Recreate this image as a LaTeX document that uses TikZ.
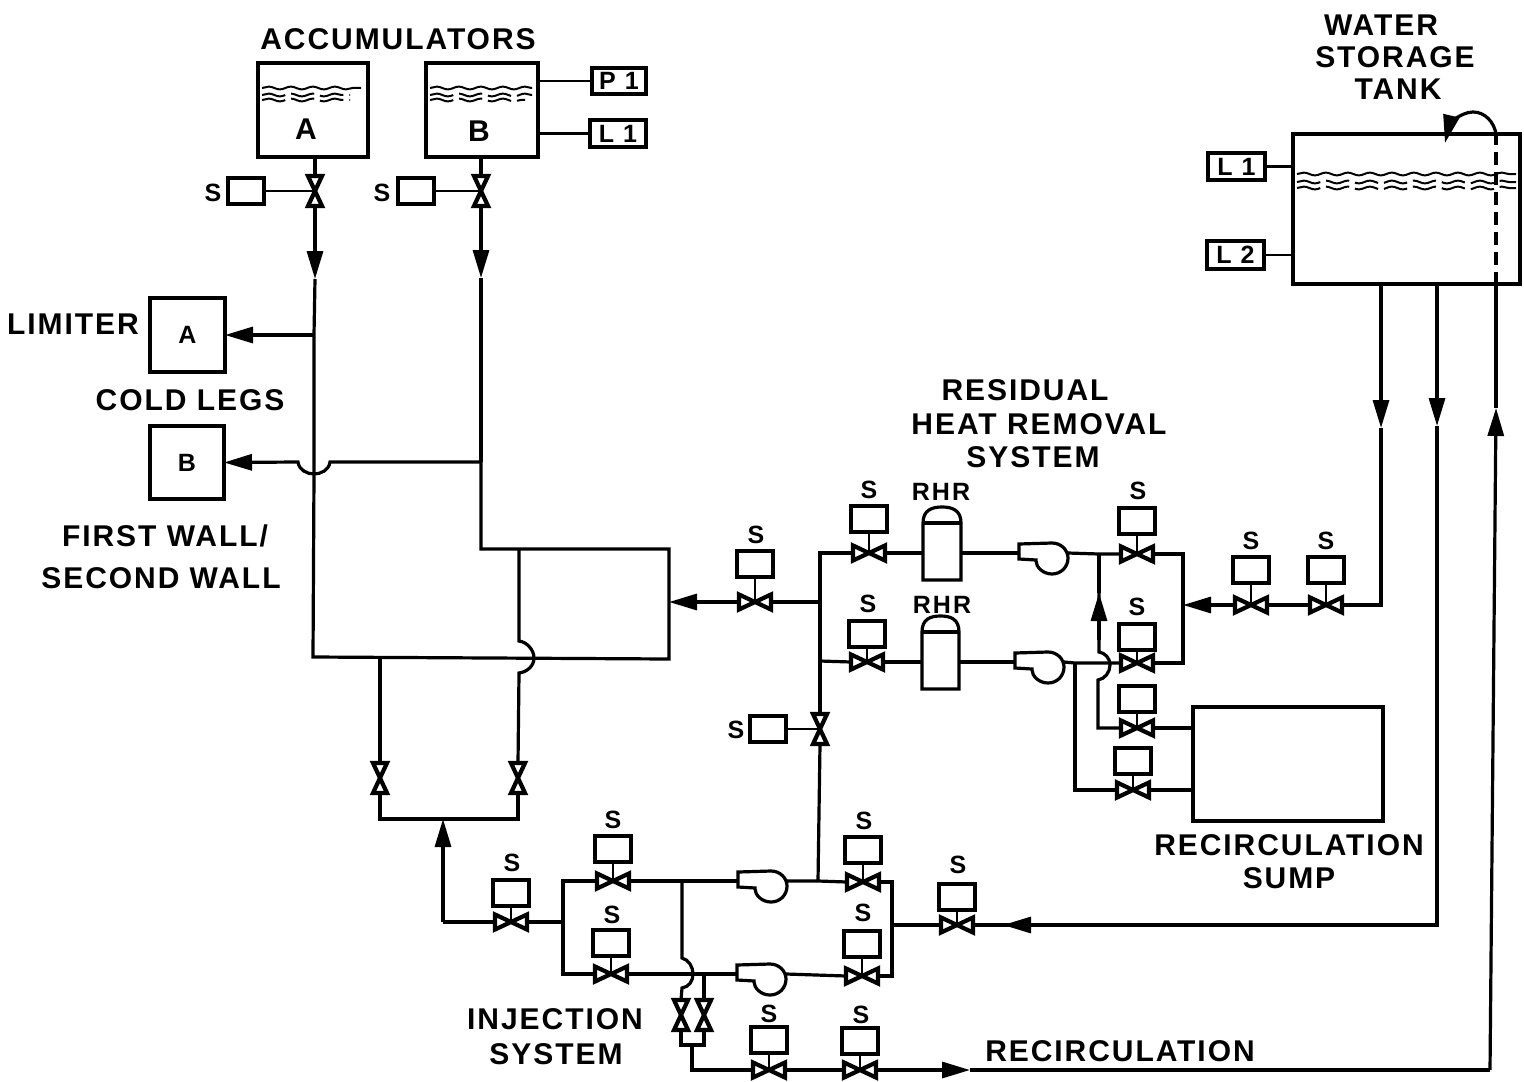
\documentclass[tikz,border=0pt]{standalone}
\usepackage{fontspec}
\setmainfont{Liberation Sans}
\newfontfamily\bigfont[LetterSpace=6.5]{Liberation Sans Bold}
\newfontfamily\smallfont[LetterSpace=8]{Liberation Sans Bold}
\usetikzlibrary{arrows.meta,decorations.pathmorphing}
\tikzset{
  pipe/.style={line width=1.6pt,line join=miter},
  thinpipe/.style={line width=1.4pt},
  vline/.style={line width=2.1pt,line join=miter},
  tip/.style={-{Triangle[length=14pt,width=8pt]}},
  title/.style={font=\bigfont\fontsize{15}{17}\selectfont,inner sep=0pt,align=center,yshift=-0.5pt},
  small/.style={font=\smallfont\fontsize{12.5}{14}\selectfont,inner sep=0pt,yshift=-0.5pt},
  boxlabel/.style={font=\smallfont\fontsize{12.5}{14}\selectfont},
  act/.style={draw,line width=1.7pt,inner sep=0pt,outer sep=0pt,minimum width=18pt,minimum height=13pt,fill=white},
  hv/.style={inner sep=0pt,outer sep=0pt,minimum width=16pt,minimum height=7.5pt,
    append after command={\pgfextra{\draw[vline,fill=white] (\tikzlastnode.north west)--(\tikzlastnode.south east)--(\tikzlastnode.north east)--(\tikzlastnode.south west)--cycle;}}},
  vv/.style={inner sep=0pt,outer sep=0pt,minimum width=7pt,minimum height=15pt,
    append after command={\pgfextra{\draw[vline,fill=white] (\tikzlastnode.north west)--(\tikzlastnode.north east)--(\tikzlastnode.south west)--(\tikzlastnode.south east)--cycle;}}},
  water/.style={line width=1pt,decorate,decoration={snake,amplitude=.7pt,segment length=11pt}},
  brk/.style={dash pattern=on 12pt off 3pt}
}
% boxes given by their corners in reference pixels
\newcommand\lbx[6]{\node[draw,line width=1.7pt,inner sep=0pt,outer sep=0pt,minimum width={(#4-#2)*0.5pt},minimum height={(#5-#3)*0.5pt},boxlabel] (#1) at ({(#2+#4)/2},{(#3+#5)/2}) {#6};}
% horizontal valve with actuator above: name, x, y, actuator centre y
\newcommand\hva[4]{\node[hv] (#1) at (#2,#3) {};\node[act] (#1a) at (#2,#4) {};\draw[thinpipe] (#1a.south) -- (#1.center);}
% pump: name, circle centre x, y
\newcommand\pump[3]{\begin{scope}[shift={(#2,#3)}]
 \node[inner sep=0pt,minimum size=0pt] (#1) at (0,0) {};
 \coordinate (#1in) at (-33,-5);\coordinate (#1out) at (16,-5);
 \draw[pipe,fill=white] (-33,-14) -- (0,-15) .. controls (9,-15) and (16,-8) .. (16,0) .. controls (16,9) and (9,16) .. (0,16) .. controls (-9,16) and (-16,9) .. (-16,3) -- (-16,2) -- (-33,1) -- cycle;
 \end{scope}}
% RHR vessel: name, x1, x2, ydome, yspring, ybottom
\newcommand\rhr[6]{\coordinate (#1w) at (#2,{#6-27});\coordinate (#1e) at (#3,{#6-27});
 \draw[pipe] (#2,#5) .. controls (#2,{#4+3}) and ({(#2+#3)/2-10},#4) .. ({(#2+#3)/2},#4) .. controls ({(#2+#3)/2+10},#4) and (#3,{#4+3}) .. (#3,#5) -- (#3,#6) -- (#2,#6) -- cycle;
 \draw[pipe] (#2,#5) -- (#3,#5);}
\begin{document}
\begin{tikzpicture}[x=0.5pt,y=-0.5pt]
\useasboundingbox (0,0) rectangle (1524,1081);

% ---- labels
\node[title] (tacc) at (398,38) {ACCUMULATORS};
\node[title] (tlim) at (73,323) {LIMITER};
\node[title] (tcold) at (190,399) {COLD LEGS};
\node[title] (tfw1) at (165,535) {FIRST WALL/};
\node[title] (tfw2) at (161,577) {SECOND WALL};
\node[title] (tw1) at (1381,24) {WATER};
\node[title] (tw2) at (1395,56) {STORAGE};
\node[title] (tw3) at (1398,88) {TANK};
\node[title] (tr1) at (1025,389) {RESIDUAL};
\node[title] (tr2) at (1039,423) {HEAT REMOVAL};
\node[title] (tr3) at (1033,456) {SYSTEM};
\node[title] (ts1) at (1289,844) {RECIRCULATION};
\node[title] (ts2) at (1289,877) {SUMP};
\node[title] (ti1) at (555,1018) {INJECTION};
\node[title] (ti2) at (556,1053) {SYSTEM};
\node[title] (trc) at (1120,1050) {RECIRCULATION};

% ---- tanks and boxes
\lbx{ta}{258}{63}{368}{157}{}
\lbx{tb}{426}{63}{538}{157}{}
\node[title] (ala) at (306,128) {A};
\node[title] (alb) at (479,130) {B};
\lbx{p1}{592}{68}{646}{94}{P 1}
\lbx{l1a}{590}{120}{646}{147}{L 1}
\lbx{lim}{150}{298}{225}{372}{A}
\lbx{cold}{150}{426}{224}{499}{B}
\lbx{wst}{1293}{134}{1520}{284}{}
\lbx{l1w}{1208}{153}{1265}{180}{L 1}
\lbx{l2w}{1207}{241}{1264}{269}{L 2}
\lbx{sump}{1193}{707}{1383}{821}{}

% ---- water surfaces
\draw[water] (262,88) -- (361,88);
\draw[water,brk] (262,95) -- (350,95);
\draw[water,brk] (262,100) -- (350,100);
\draw[water] (430,88) -- (532,88);
\draw[water,brk] (430,95) -- (532,95);
\draw[water,brk] (430,100) -- (525,100);
\draw[water] (1297,174) -- (1516,174);
\draw[water,brk] (1297,182) -- (1516,182);
\draw[water,brk] (1297,188) -- (1516,188);

% ---- accumulator valves
\node[vv] (va) at (315,191) {};
\node[vv] (vb) at (481,191) {};
\node[act] (vaa) at (246,191) {};
\node[act] (vba) at (416,191) {};
\node[small] (sa) at (213,192) {S};
\node[small] (sb) at (382,192) {S};
\draw[thinpipe] (vaa.east) -- (va.center);
\draw[thinpipe] (vba.east) -- (vb.center);

% ---- valves with actuators
\hva{v1}{755}{602}{564}
\hva{v2}{869}{553}{519}
\hva{v3}{867}{662}{634}
\hva{v4}{1137}{554}{521}
\hva{v5}{1137}{663}{637}
\hva{v6}{1137}{728}{699}
\hva{v7}{1133}{790}{761}
\hva{v8}{1251}{605}{570}
\hva{v9}{1326}{605}{570}
\hva{v10}{511}{922}{893}
\hva{v11}{613}{881}{849}
\hva{v12}{611}{974}{943}
\hva{v13}{863}{882}{850}
\hva{v14}{862}{976}{944}
\hva{v15}{957}{925}{897}
\hva{v16}{769}{1070}{1040}
\hva{v17}{860}{1070}{1041}
\node[small] (s1) at (756,534) {S};
\node[small] (s2) at (869,489) {S};
\node[small] (s3) at (868,603) {S};
\node[small] (s4) at (1138,490) {S};
\node[small] (s5) at (1137,606) {S};
\node[small] (s8) at (1251,540) {S};
\node[small] (s9) at (1326,540) {S};
\node[small] (s10) at (512,862) {S};
\node[small] (s11) at (613,819) {S};
\node[small] (s12) at (612,914) {S};
\node[small] (s13) at (864,820) {S};
\node[small] (s14) at (863,912) {S};
\node[small] (s15) at (958,864) {S};
\node[small] (s16) at (769,1013) {S};
\node[small] (s17) at (861,1014) {S};
\node[small] (rl1) at (941,491) {RHR};
\node[small] (rl2) at (942,604) {RHR};

% ---- plain valves
\node[vv] (vl) at (380,778) {};
\node[vv] (vr) at (518,778) {};
\node[vv] (vc) at (820,729) {};
\node[vv] (vp) at (681,1015) {};
\node[vv] (vq) at (704,1015) {};
\node[act] (vca) at (768,729) {};
\node[small] (sc) at (736,729) {S};
\draw[thinpipe] (vca.east) -- (vc.center);

% ---- vessels and pumps
\rhr{r1}{923}{961}{507}{523}{580}
\rhr{r2}{922}{959}{616}{632}{689}
\pump{pu1}{1052}{558}
\pump{pu2}{1048}{667}
\pump{pu3}{771}{886}
\pump{pu4}{770}{979}

% ---- instrument lines
\coordinate (tb1) at (538,81);
\coordinate (tb2) at (538,133.5);
\coordinate (tw1a) at (1293,166.5);
\coordinate (tw2a) at (1293,255);
\draw[thinpipe] (tb1) -- (p1.west);
\draw[thinpipe] (tb2) -- (l1a.west);
\draw[thinpipe] (l1w.east) -- (tw1a);
\draw[thinpipe] (l2w.east) -- (tw2a);

% ---- accumulator lines
\coordinate (taout) at (315,157);
\coordinate (tbout) at (481,157);
\coordinate (aa) at (315,279);
\coordinate (ab) at (481,278);
\coordinate (jlim) at (314,335);
\coordinate (jcross) at (314,474);
\coordinate (jbl) at (313,657);
\coordinate (jb) at (481,462);
\coordinate (jtl) at (481,549);
\coordinate (jtr) at (669,549);
\coordinate (jbr) at (669,659);
\coordinate (j519) at (519,549);
\coordinate (jarrow) at (669,602);
\draw[pipe] (taout) -- (va.north);
\draw[pipe] (tbout) -- (vb.north);
\draw[pipe,tip] (va.south) -- (aa);
\draw[pipe] (aa) -- (jlim) -- (jcross) -- (jbl) -- (jbr) -- (jtr) -- (jtl) -- (jb);
\draw[pipe,tip] (vb.south) -- (ab);
\draw[pipe] (ab) -- (jb);
\draw[pipe,tip] (jlim) -- (lim.east);
\draw[pipe,tip] (jb) -- (330,462) .. controls (329,470) and (321,474) .. (jcross) .. controls (307,474) and (299,470) .. (298,462) -- (cold.east);

% ---- loop to isolation valves
\coordinate (jl) at (380,658);
\coordinate (jlb) at (380,819);
\coordinate (jrb) at (518,819);
\coordinate (jarr2) at (443,819);
\coordinate (jarr2b) at (443,922);
\draw[pipe] (j519) -- (519,641) .. controls (527,642) and (534,650) .. (534,658) .. controls (534,666) and (527,672) .. (519,673) -- (vr.north);
\draw[pipe] (jl) -- (vl.north);
\draw[pipe] (vl.south) -- (jlb) -- (jrb) -- (vr.south);
\draw[pipe,tip] (jarr2b) -- (jarr2);
\draw[pipe] (jarr2b) -- (v10.west);

% ---- RHR section
\coordinate (j820a) at (820,553);
\coordinate (j820b) at (820,602);
\coordinate (j820c) at (820,661);
\coordinate (j817) at (818,881);
\coordinate (j1099a) at (1099,554);
\coordinate (j1183a) at (1183,554);
\coordinate (j1183b) at (1183,605);
\coordinate (j1183c) at (1183,663);
\coordinate (j1099b) at (1098,728);
\coordinate (a1099) at (1099,593);
\coordinate (j1075a) at (1075,663);
\coordinate (j1075b) at (1075,790);
\coordinate (s728) at (1193,728);
\coordinate (s790) at (1193,790);
\draw[pipe,tip] (v1.west) -- (jarrow);
\draw[pipe] (v1.east) -- (j820b);
\draw[pipe] (v2.west) -- (j820a) -- (j820b) -- (j820c) -- (vc.north);
\draw[pipe] (vc.south) -- (j817);
\draw[pipe] (j820c) -- (v3.west);
\draw[pipe] (v2.east) -- (r1w);
\draw[pipe] (v3.east) -- (r2w);
\draw[pipe] (r1e) -- (pu1in);
\draw[pipe] (r2e) -- (pu2in);
\draw[pipe] (pu1out) -- (j1099a) -- (v4.west);
\draw[pipe] (pu2out) -- (j1075a) -- (v5.west);
\draw[pipe] (v4.east) -- (j1183a) -- (j1183b) -- (j1183c) -- (v5.east);
\draw[pipe] (j1075a) -- (j1075b) -- (v7.west);
\draw[pipe] (v7.east) -- (s790);
\draw[pipe] (v6.east) -- (s728);
\draw[pipe] (v6.west) -- (j1099b) -- (1098,680) .. controls (1105,679) and (1110,672) .. (1110,665) .. controls (1110,658) and (1105,653) .. (1099,652) -- (a1099);
\draw[pipe] (a1099) -- (j1099a);
\draw[pipe,tip] (1099,640) -- (a1099);

% ---- water tank lines
\coordinate (o1) at (1381,285);
\coordinate (o2) at (1437,285);
\coordinate (o3) at (1496,285);
\coordinate (a1) at (1381,428);
\coordinate (a2) at (1437,426);
\coordinate (a3) at (1496,408);
\coordinate (c1) at (1381,605);
\coordinate (c2) at (1437,925);
\coordinate (c3) at (1490,1070);
\coordinate (o4) at (1496,134);
\coordinate (o5) at (1445,143);
\coordinate (a4) at (1003,925);
\coordinate (a5) at (970,1070);
\draw[pipe,tip] (o1) -- (a1);
\draw[pipe] (a1) -- (c1) -- (v9.east);
\draw[pipe] (v9.west) -- (v8.east);
\draw[pipe,tip] (v8.west) -- (j1183b);
\draw[pipe,tip] (o2) -- (a2);
\draw[pipe] (a2) -- (c2) -- (a4);
\draw[pipe,tip] (1030,925) -- (a4);
\draw[pipe] (a4) -- (v15.east);
\draw[pipe] (o3) -- (a3);
\draw[pipe,tip] (c3) -- (a3);
\draw[pipe,dash pattern=on 6.5pt off 3.5pt] (o3) -- (o4);
\draw[pipe,tip] (o4) .. controls (1494,122) and (1485,112) .. (1473,112) .. controls (1460,112) and (1449,126) .. (o5);
\draw[pipe] (c3) -- (a5);
\draw[pipe,tip] (v17.east) -- (a5);

% ---- injection section
\coordinate (i563a) at (563,881);
\coordinate (i563m) at (563,922);
\coordinate (i563b) at (563,974);
\coordinate (i682) at (682,881);
\coordinate (i892a) at (892,882);
\coordinate (i892m) at (892,925);
\coordinate (i892b) at (892,976);
\coordinate (i704) at (704,974);
\coordinate (i681e) at (681,1045);
\coordinate (i704e) at (704,1045);
\coordinate (i692) at (692,1045);
\coordinate (i692b) at (692,1070);
\draw[pipe] (v10.east) -- (i563m);
\draw[pipe] (v11.west) -- (i563a) -- (i563m) -- (i563b) -- (v12.west);
\draw[pipe] (v11.east) -- (i682) -- (pu3in);
\draw[pipe] (pu3out) -- (j817) -- (v13.west);
\draw[pipe] (v13.east) -- (i892a) -- (i892m) -- (i892b) -- (v14.east);
\draw[pipe] (v12.east) -- (pu4in);
\draw[pipe] (pu4out) -- (v14.west);
\draw[pipe] (i892m) -- (v15.west);
\draw[pipe] (i682) -- (682,958) .. controls (689,960) and (693,967) .. (693,974) .. controls (693,981) and (689,987) .. (682,988) -- (vp.north);
\draw[pipe] (i704) -- (vq.north);
\draw[pipe] (vp.south) -- (i681e) -- (i704e) -- (vq.south);
\draw[pipe] (i692) -- (i692b) -- (v16.west);
\draw[pipe] (v16.east) -- (v17.west);
\end{tikzpicture}
\end{document}
